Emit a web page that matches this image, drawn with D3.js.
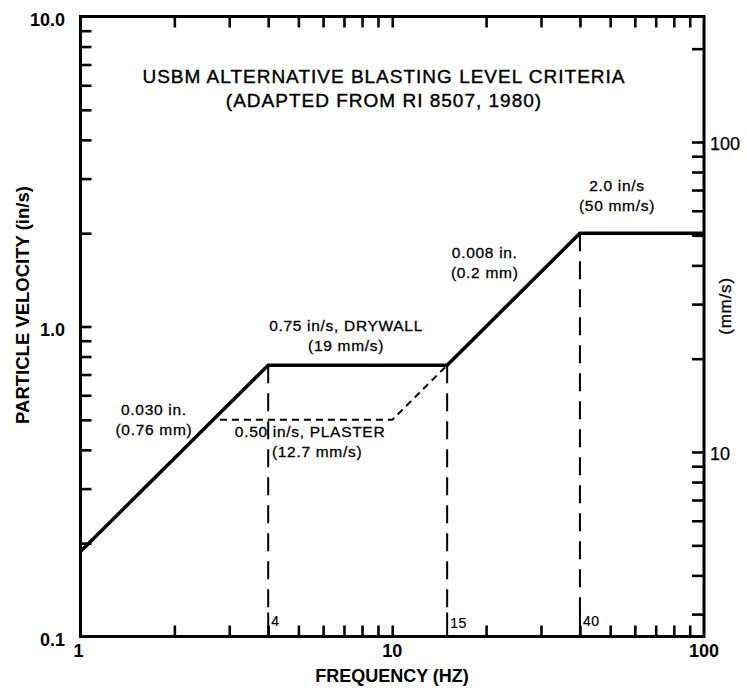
<!DOCTYPE html>
<html>
<head>
<meta charset="utf-8">
<script src="https://cdn.jsdelivr.net/npm/d3@7"></script>
<style>
  html, body { margin: 0; padding: 0; background: #fff; }
  svg { display: block; }
  text { font-family: "Liberation Sans", Arial, Helvetica, sans-serif; fill: #000; }
</style>
</head>
<body>
<svg id="chart" width="747" height="688"></svg>
<script>
// ---- data ----
const solidFreq = [1, 4, 15, 40, 100];
const solidVel = [0.188, 0.75, 0.75, 2.0, 2.0];
const plasterFreq = [2.8, 10, 15];
const plasterVel = [0.5, 0.5, 0.75];
const markerFreq = [4, 15, 40];
const markerVel = [0.75, 0.75, 2.0];
const markerLabels = ["4", "15", "40"];
const xTickValues = [2, 3, 4, 5, 6, 7, 8, 9, 10, 20, 30, 40, 50, 60, 70, 80, 90];
const xLabelValues = [1, 10, 100];
const xLabels = ["1", "10", "100"];
const yTickValues = [0.2, 0.3, 0.4, 0.5, 0.6, 0.7, 0.8, 0.9, 1, 2, 3, 4, 5, 6, 7, 8, 9];
const yLabelValues = [10, 1, 0.1];
const yLabels = ["10.0", "1.0", "0.1"];
const mmTickValues = [3, 4, 5, 6, 7, 8, 9, 10, 20, 30, 40, 50, 60, 70, 80, 90, 100, 200];
const mmLabelValues = [100, 10];
const mmLabels = ["100", "10"];
const titleLines = ["USBM ALTERNATIVE BLASTING LEVEL CRITERIA", "(ADAPTED FROM RI 8507, 1980)"];
const xTitle = "FREQUENCY (HZ)";
const yTitle = "PARTICLE VELOCITY (in/s)";
const y2Title = "(mm/s)";
// annotations: anchor frequency/velocity for each label block
const annotations = [
  { lines: ["0.75 in/s, DRYWALL", "(19 mm/s)"], f: 7.11, v: 0.967 },
  { lines: ["0.030 in.", "(0.76 mm)"], f: 1.72, v: 0.518 },
  { lines: ["0.50 in/s, PLASTER", "(12.7 mm/s)"], f: 5.45, v: 0.44, shift2: 7 },
  { lines: ["0.008 in.", "(0.2 mm)"], f: 19.8, v: 1.66 },
  { lines: ["2.0 in/s", "(50 mm/s)"], f: 52.6, v: 2.74 }
];

// ---- layout ----
const svg = d3.select("#chart");
const L = 80.5, R = 704, T = 16.5, B = 636.5;
const x = d3.scaleLog().domain([1, 100]).range([L, R]);
const y = d3.scaleLog().domain([0.1, 10]).range([B, T]);
const yMM = d3.scaleLog().domain([2.54, 254]).range([B, T]);
const TICK = 11;

function styleAxis(g) {
  g.select(".domain").remove();
  g.selectAll(".tick line").attr("stroke", "#000").attr("stroke-width", 2.6);
}

svg.append("g").attr("transform", `translate(0,${B})`)
  .call(d3.axisBottom(x).tickValues(xTickValues).tickSize(-TICK).tickFormat(""))
  .call(styleAxis);
svg.append("g").attr("transform", `translate(0,${T})`)
  .call(d3.axisTop(x).tickValues(xTickValues).tickSize(-TICK).tickFormat(""))
  .call(styleAxis);
svg.append("g").attr("transform", `translate(${L},0)`)
  .call(d3.axisLeft(y).tickValues(yTickValues).tickSize(-TICK).tickFormat(""))
  .call(styleAxis);
svg.append("g").attr("transform", `translate(${R},0)`)
  .call(d3.axisRight(yMM).tickValues(mmTickValues).tickSize(-TICK - 1).tickFormat(""))
  .call(styleAxis);

// frame
svg.append("rect").attr("x", L).attr("y", T).attr("width", R - L).attr("height", B - T)
  .attr("fill", "none").attr("stroke", "#000").attr("stroke-width", 3);

// tick labels
svg.append("g").selectAll("text").data(yLabelValues).join("text")
  .attr("x", 65).attr("y", d => y(d) + 3)
  .attr("text-anchor", "end").attr("dominant-baseline", "central")
  .attr("font-size", 18).attr("font-weight", "bold")
  .text((d, i) => yLabels[i]);
svg.append("g").selectAll("text").data(xLabelValues).join("text")
  .attr("x", d => x(d) - (d === 1 ? 2 : 0)).attr("y", 657)
  .attr("text-anchor", "middle")
  .attr("font-size", 18).attr("font-weight", "bold")
  .text((d, i) => xLabels[i]);
svg.append("g").selectAll("text").data(mmLabelValues).join("text")
  .attr("x", R + 6).attr("y", d => yMM(d) + 2)
  .attr("text-anchor", "start").attr("dominant-baseline", "central")
  .attr("font-size", 18).attr("stroke", "#000").attr("stroke-width", 0.25)
  .text((d, i) => mmLabels[i]);

// axis titles
svg.append("text").attr("x", 392).attr("y", 682).attr("text-anchor", "middle")
  .attr("font-size", 18).attr("font-weight", "bold").text(xTitle);
svg.append("text").attr("transform", "translate(29,305) rotate(-90)").attr("text-anchor", "middle")
  .attr("font-size", 18.5).attr("font-weight", "bold").text(yTitle);
svg.append("text").attr("transform", "translate(731,306) rotate(-90)").attr("text-anchor", "middle")
  .attr("font-size", 17).attr("letter-spacing", 0.8)
  .attr("stroke", "#000").attr("stroke-width", 0.3).text(y2Title);

// title
svg.append("g").selectAll("text").data(titleLines).join("text")
  .attr("x", 384).attr("y", (d, i) => 83 + i * 24)
  .attr("text-anchor", "middle").attr("font-size", 19).attr("letter-spacing", 1)
  .attr("stroke", "#000").attr("stroke-width", 0.4)
  .text(d => d);

// vertical dashed marker lines
svg.append("g").selectAll("line").data(markerFreq).join("line")
  .attr("x1", d => x(d)).attr("x2", d => x(d))
  .attr("y1", (d, i) => y(markerVel[i])).attr("y2", B - 22)
  .attr("stroke", "#000").attr("stroke-width", 2).attr("stroke-dasharray", "18,10");
svg.append("g").selectAll("line").data(markerFreq).join("line")
  .attr("x1", d => x(d)).attr("x2", d => x(d))
  .attr("y1", B - 24).attr("y2", B)
  .attr("stroke", "#000").attr("stroke-width", 2);
svg.append("g").selectAll("text").data(markerFreq).join("text")
  .attr("x", d => x(d) + 3).attr("y", (d, i) => B - 11 + (i === 1 ? 2 : 0))
  .attr("font-size", 14).attr("letter-spacing", 0.5)
  .attr("stroke", "#000").attr("stroke-width", 0.2)
  .text((d, i) => markerLabels[i]);

// plaster dashed line
const line = d3.line().x(d => x(d[0])).y(d => y(d[1]));
svg.append("path").datum(plasterFreq.map((f, i) => [f, plasterVel[i]]))
  .attr("d", line).attr("fill", "none").attr("stroke", "#000")
  .attr("stroke-width", 2).attr("stroke-dasharray", "7,5");

// solid criteria line
svg.append("path").datum(solidFreq.map((f, i) => [f, solidVel[i]]))
  .attr("d", line).attr("fill", "none").attr("stroke", "#000")
  .attr("stroke-width", 3.5).attr("stroke-linejoin", "miter");

// annotations
const ag = svg.append("g");
annotations.forEach(a => {
  const t = ag.append("text").attr("x", x(a.f)).attr("y", y(a.v))
    .attr("text-anchor", "middle").attr("font-size", 15.5).attr("letter-spacing", 0.7)
    .attr("stroke", "#000").attr("stroke-width", 0.3);
  a.lines.forEach((s, i) => {
    t.append("tspan").attr("x", x(a.f) + (i === 1 && a.shift2 ? a.shift2 : 0))
      .attr("dy", i === 0 ? 0 : 20).text(s);
  });
});
</script>
</body>
</html>
